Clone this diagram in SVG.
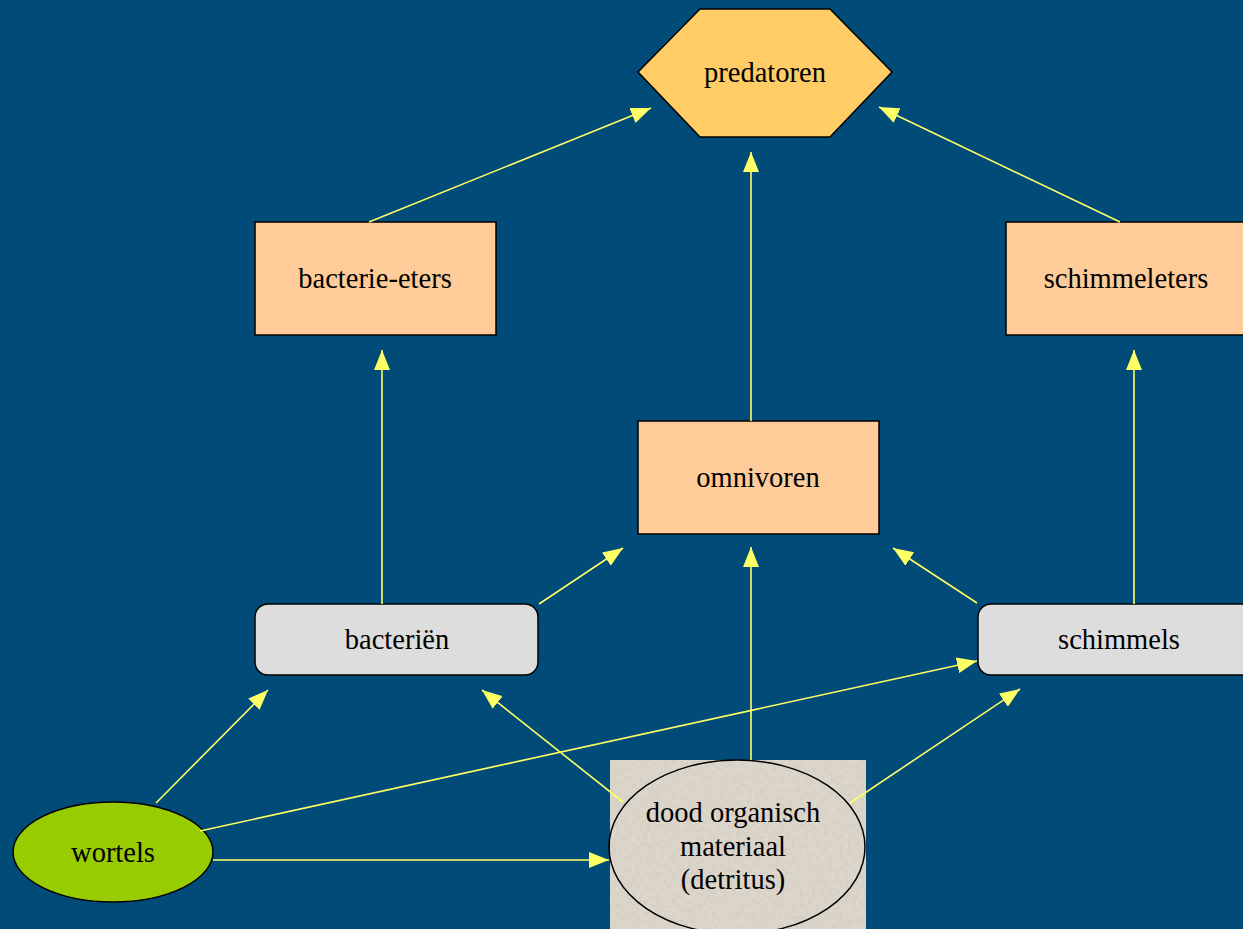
<svg xmlns="http://www.w3.org/2000/svg" width="1243" height="929" viewBox="0 0 1243 929">
<style>
  .t { font-family: "Liberation Serif", "Times New Roman", serif; font-size: 28.5px; fill: #000; text-anchor: middle; }
  .c line { stroke: #FFFF66; stroke-width: 1.6; marker-end: url(#ah); }
  .box { fill: #FFCC99; stroke: #000; stroke-width: 1.5; }
  .rbox { fill: #DDDDDD; stroke: #000; stroke-width: 1.5; }
</style>
<defs>
  <marker id="ah" viewBox="0 0 20 16" refX="20" refY="8" markerWidth="20" markerHeight="16" markerUnits="userSpaceOnUse" orient="auto">
    <path d="M0,0 L20,8 L0,16 Z" fill="#FFFF66"/>
  </marker>
  <filter id="grain" x="0" y="0" width="100%" height="100%">
    <feTurbulence type="fractalNoise" baseFrequency="0.25" numOctaves="2" seed="3" result="n"/>
    <feColorMatrix in="n" type="matrix" values="0 0 0 0 0.6  0 0 0 0 0.57  0 0 0 0 0.52  0 0 0 -1.2 0.75" result="g"/>
    <feComposite in="g" in2="SourceGraphic" operator="in" result="gc"/>
    <feMerge><feMergeNode in="SourceGraphic"/><feMergeNode in="gc"/></feMerge>
  </filter>
</defs>
<rect x="0" y="0" width="1243" height="929" fill="#004B78"/>

<g id="predatoren">
  <polygon points="700,9 830,9 892,72 830,137 700,137 638,72" fill="#FFCC66" stroke="#000" stroke-width="1.5"/>
  <text class="t" x="765" y="82">predatoren</text>
</g>
<g id="bacterie-eters">
  <rect class="box" x="255" y="222" width="241" height="113"/>
  <text class="t" x="375" y="288">bacterie-eters</text>
</g>
<g id="schimmeleters">
  <rect class="box" x="1006" y="222" width="250" height="113"/>
  <text class="t" x="1126" y="288">schimmeleters</text>
</g>
<g id="omnivoren">
  <rect class="box" x="638" y="421" width="241" height="113"/>
  <text class="t" x="758" y="487">omnivoren</text>
</g>
<g id="bacterien">
  <rect class="rbox" x="255" y="604" width="283" height="71" rx="13" ry="13"/>
  <text class="t" x="397" y="649">bacteriën</text>
</g>
<g id="schimmels">
  <rect class="rbox" x="978" y="604" width="290" height="71" rx="13" ry="13"/>
  <text class="t" x="1119" y="649">schimmels</text>
</g>
<g id="wortels">
  <ellipse cx="113" cy="852" rx="100" ry="50" fill="#99CC00" stroke="#000" stroke-width="1.5"/>
  <text class="t" x="113" y="862">wortels</text>
</g>
<g id="detritus">
  <rect x="610" y="760" width="256" height="169" fill="#DDD6CA" filter="url(#grain)"/>
  <ellipse cx="737" cy="847" rx="128" ry="87" fill="none" stroke="#000" stroke-width="1.5"/>
  <text class="t" x="733" y="822">dood organisch</text>
  <text class="t" x="733" y="856">materiaal</text>
  <text class="t" x="733" y="889">(detritus)</text>
</g>

<g id="connectors" class="c">
  <line x1="369" y1="222" x2="651" y2="108"/>
  <line x1="751" y1="421" x2="751" y2="152"/>
  <line x1="1120" y1="222" x2="879" y2="107"/>
  <line x1="382" y1="604" x2="382" y2="350"/>
  <line x1="1134" y1="604" x2="1134" y2="350"/>
  <line x1="539" y1="604" x2="623" y2="548"/>
  <line x1="977" y1="603" x2="893" y2="548"/>
  <line x1="751" y1="760" x2="751" y2="547"/>
  <line x1="156" y1="803" x2="268" y2="690"/>
  <line x1="623" y1="802" x2="482" y2="690"/>
  <line x1="850" y1="803" x2="1020" y2="689"/>
  <line x1="200" y1="831" x2="977" y2="661"/>
  <line x1="213" y1="860" x2="609" y2="860"/>
</g>
</svg>
